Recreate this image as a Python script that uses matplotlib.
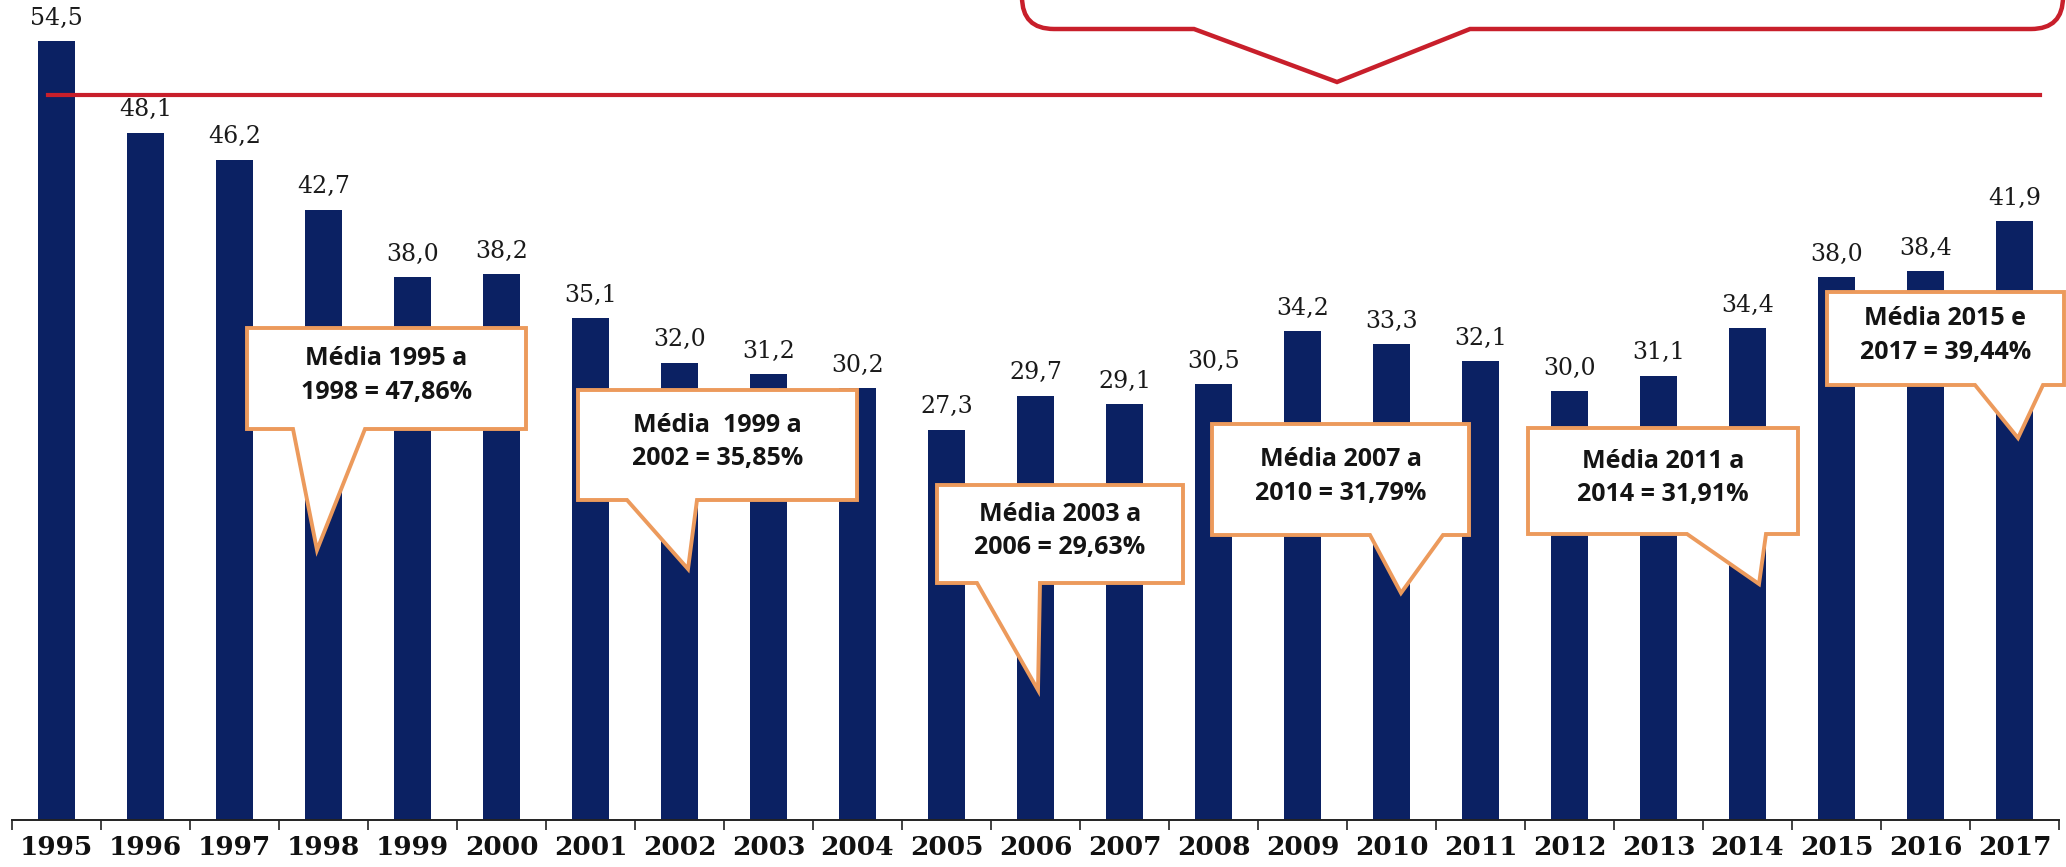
import matplotlib
matplotlib.use("Agg")
import matplotlib.pyplot as plt
from matplotlib.patches import Polygon, PathPatch
from matplotlib.path import Path

# ---------------- data ----------------
years = [str(y) for y in range(1995, 2018)]
values = [54.5, 48.1, 46.2, 42.7, 38.0, 38.2, 35.1, 32.0, 31.2, 30.2, 27.3,
          29.7, 29.1, 30.5, 34.2, 33.3, 32.1, 30.0, 31.1, 34.4, 38.0, 38.4, 41.9]
reference_level = 50.7
callout_texts = [
    "Média 1995 a\n1998 = 47,86%",
    "Média  1999 a\n2002 = 35,85%",
    "Média 2003 a\n2006 = 29,63%",
    "Média 2007 a\n2010 = 31,79%",
    "Média 2011 a\n2014 = 31,91%",
    "Média 2015 e\n2017 = 39,44%",
]

# ---------------- layout ----------------
W, H = 2066, 867
fig = plt.figure(figsize=(W / 100, H / 100), dpi=100)
fig.patch.set_facecolor("white")

x0, x1, ybase = 12, 2059, 820
px_per_unit = 14.29
ax = fig.add_axes([x0 / W, (H - ybase) / H, (x1 - x0) / W, ybase / H])
ax.set_xlim(-0.5, len(years) - 0.5)
ax.set_ylim(0, ybase / px_per_unit)

bar_color = "#0b2163"
xs = list(range(len(years)))
ax.bar(xs, values, width=0.405, color=bar_color, zorder=2)

for x, v in zip(xs, values):
    ax.annotate(f"{v:.1f}".replace(".", ","), (x, v), xytext=(0, 16.5),
                textcoords="offset points", ha="center", va="center",
                fontsize=17, family="DejaVu Serif", color="#1a1a1a", zorder=3)

for s in ("left", "right", "top"):
    ax.spines[s].set_visible(False)
ax.spines["bottom"].set_color("#222222")
ax.spines["bottom"].set_linewidth(1.4)
ax.set_yticks([])
ax.set_xticks([i - 0.5 for i in range(len(years) + 1)])
ax.set_xticklabels([])
ax.tick_params(axis="x", which="major", direction="out", length=7.5,
               width=1.2, color="#222222")
ax.set_xticks(xs, minor=True)
ax.set_xticklabels(years, minor=True, fontsize=19, family="DejaVu Serif",
                   fontweight="bold", color="#111111")
ax.tick_params(axis="x", which="minor", length=0, pad=11)

# red reference line
red = "#c81f2b"
ax.axhline(reference_level, xmin=(48 - x0) / (x1 - x0), xmax=(2040 - x0) / (x1 - x0),
           color=red, lw=3.0, zorder=4)


def fp(x, y):
    return (x / W, 1 - y / H)


# red rounded callout box at top (cut by figure edge)
L, R, B, T, r = 1022, 2063, 29, -80, 32
vl, vt, vr, vty = 1194, 1337, 1470, 82
verts = [fp(vl, B), fp(vt, vty), fp(vr, B), fp(R - r, B), fp(R, B), fp(R, B - r),
         fp(R, T), fp(L, T), fp(L, B - r), fp(L, B), fp(L + r, B), fp(vl, B)]
codes = [Path.MOVETO, Path.LINETO, Path.LINETO, Path.LINETO, Path.CURVE3, Path.CURVE3,
         Path.LINETO, Path.LINETO, Path.LINETO, Path.CURVE3, Path.CURVE3, Path.CLOSEPOLY]
fig.patches.append(PathPatch(Path(verts, codes), facecolor="white", edgecolor=red,
                             lw=3.2, transform=fig.transFigure, zorder=5))

# orange callouts: (left, right, top, bottom, tail_left, tail_right, tip_x, tip_y)
callout_geom = [
    (247, 526, 328, 429, 293, 365, 317, 550),
    (578, 857, 390, 500, 627, 697, 688, 569),
    (937, 1183, 485, 583, 977, 1040, 1038, 690),
    (1212, 1469, 424, 535, 1370, 1443, 1401, 593),
    (1528, 1798, 428, 534, 1687, 1766, 1759, 584),
    (1827, 2064, 292, 385, 1975, 2043, 2018, 438),
]
orange = "#ec9a5c"
for txt, (l, rr, t, b, tl, tr, tx, ty) in zip(callout_texts, callout_geom):
    poly = [fp(l, t), fp(rr, t), fp(rr, b), fp(tr, b), fp(tx, ty), fp(tl, b), fp(l, b)]
    fig.patches.append(Polygon(poly, closed=True, facecolor="white", edgecolor=orange,
                               lw=2.8, joinstyle="miter", transform=fig.transFigure,
                               zorder=6))
    cx, cy = fp((l + rr) / 2, (t + b) / 2 - 3)
    fig.text(cx, cy, txt, ha="center", va="center", fontsize=18,
             family="Open Sans", fontweight="bold", color="#141414",
             linespacing=1.45, zorder=7)

fig.savefig("out.png", dpi=100, facecolor="white")
